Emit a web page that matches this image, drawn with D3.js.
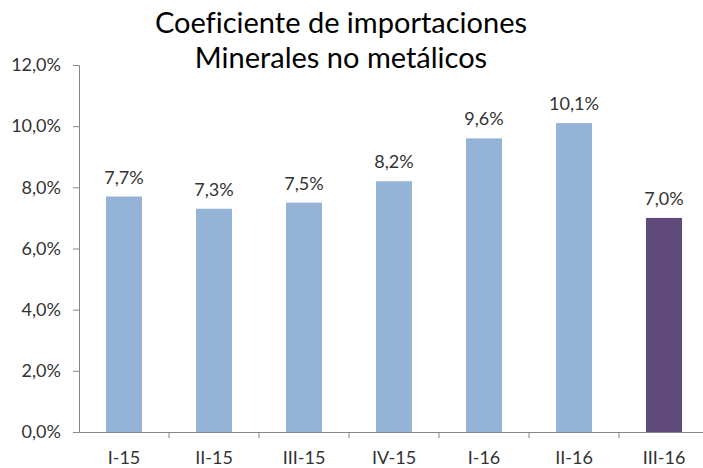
<!DOCTYPE html>
<html>
<head>
<meta charset="utf-8">
<script src="https://cdn.jsdelivr.net/npm/d3@7"></script>
<style>
  body { margin: 0; background: #fff; }
  svg text { font-family: Lato, "Open Sans", sans-serif; font-variant-ligatures: none; }
</style>
</head>
<body>
<div id="chart"></div>
<script>
const categories = ["I-15", "II-15", "III-15", "IV-15", "I-16", "II-16", "III-16"];
const values = [7.7, 7.3, 7.5, 8.2, 9.6, 10.1, 7.0];
const yTicks = [0, 2, 4, 6, 8, 10, 12];
const titleLines = ["Coeficiente de importaciones", "Minerales no metálicos"];

const width = 703, height = 468;
const margin = {top: 65, left: 79, bottom: 36};
const plotRight = 709;

const locale = d3.formatLocale({decimal: ",", thousands: ".", grouping: [3], currency: ["", "€"]});
const fmt = locale.format(".1f");

const svg = d3.select("#chart").append("svg")
    .attr("width", width)
    .attr("height", height);

const x = d3.scaleBand()
    .domain(categories)
    .range([margin.left, plotRight])
    .paddingInner(0.6)
    .paddingOuter(0.3);

const y = d3.scaleLinear()
    .domain([0, 12])
    .range([height - margin.bottom, margin.top]);

// title
svg.append("g").selectAll("text")
    .data(titleLines)
    .enter().append("text")
    .attr("x", 341)
    .attr("y", (d, i) => 33 + i * 35)
    .attr("text-anchor", "middle")
    .attr("font-size", 29)
    .attr("fill", "#000")
    .text(d => d);

// y axis
const yAxis = svg.append("g")
    .attr("transform", "translate(" + margin.left + ",0)")
    .call(d3.axisLeft(y).tickValues(yTicks).tickSize(6).tickPadding(12)
        .tickFormat(d => fmt(d) + "%"));
yAxis.selectAll("path, line").attr("stroke", "#868686");
yAxis.selectAll("text")
    .attr("font-size", 18)
    .attr("fill", "#333");

// x axis: labels centered in each band
const xAxis = svg.append("g")
    .attr("transform", "translate(0," + y(0) + ")")
    .call(d3.axisBottom(x).tickSize(0).tickPadding(19).tickSizeOuter(0));
xAxis.select(".domain").attr("stroke", "#868686");
xAxis.selectAll("text")
    .attr("font-size", 18)
    .attr("fill", "#333");

// tick marks sit on the band boundaries
const bounds = categories.map(c => x(c) + x.bandwidth() / 2 - x.step() / 2);
bounds.push(plotRight);
svg.append("g").selectAll("line")
    .data(bounds.slice(1))
    .enter().append("line")
    .attr("x1", d => d).attr("x2", d => d)
    .attr("y1", y(0)).attr("y2", y(0) + 6)
    .attr("stroke", "#868686");

// bars
svg.append("g").selectAll("rect")
    .data(values)
    .enter().append("rect")
    .attr("x", (d, i) => x(categories[i]))
    .attr("y", d => y(d))
    .attr("width", x.bandwidth())
    .attr("height", d => y(0) - y(d))
    .attr("fill", (d, i) => i === values.length - 1 ? "#604A7B" : "#95B3D7");

// value labels
svg.append("g").selectAll("text")
    .data(values)
    .enter().append("text")
    .attr("x", (d, i) => x(categories[i]) + x.bandwidth() / 2)
    .attr("y", d => y(d) - 13)
    .attr("text-anchor", "middle")
    .attr("font-size", 18)
    .attr("fill", "#333")
    .text(d => fmt(d) + "%");
</script>
</body>
</html>
